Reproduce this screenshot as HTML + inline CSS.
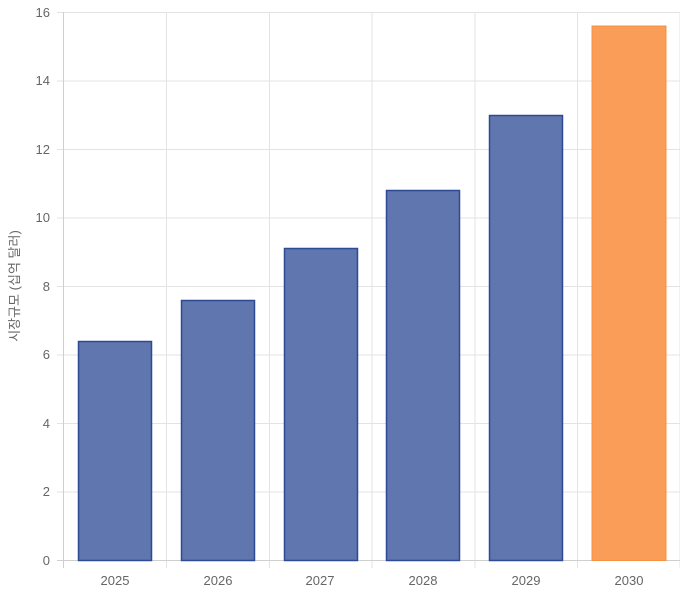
<!DOCTYPE html>
<html><head><meta charset="utf-8"><style>body{margin:0;background:#fff}</style></head><body>
<svg width="680" height="593" xmlns="http://www.w3.org/2000/svg" font-family="Liberation Sans, Noto Sans CJK KR, sans-serif">
<g stroke="#e3e3e3" stroke-width="1">
<line x1="57" y1="12.5" x2="680" y2="12.5"/><line x1="57" y1="81" x2="680" y2="81"/><line x1="57" y1="149.5" x2="680" y2="149.5"/><line x1="57" y1="218" x2="680" y2="218"/><line x1="57" y1="286.5" x2="680" y2="286.5"/><line x1="57" y1="355" x2="680" y2="355"/><line x1="57" y1="423.5" x2="680" y2="423.5"/><line x1="57" y1="492" x2="680" y2="492"/>
<line x1="166.5" y1="12" x2="166.5" y2="568"/><line x1="269.5" y1="12" x2="269.5" y2="568"/><line x1="372" y1="12" x2="372" y2="568"/><line x1="475" y1="12" x2="475" y2="568"/><line x1="577.5" y1="12" x2="577.5" y2="568"/><line x1="680" y1="12" x2="680" y2="568"/>
</g>
<g stroke="#cfcfcf"><line x1="63.5" y1="12" x2="63.5" y2="568"/><line x1="57" y1="560.5" x2="680" y2="560.5"/></g>
<g fill="#5f76ae" stroke="#2f4a94" stroke-width="1.5">
<rect x="78.5" y="341.5" width="73" height="219"/>
<rect x="181.5" y="300.5" width="73" height="260"/>
<rect x="284.5" y="248.5" width="73" height="312"/>
<rect x="386.5" y="190.5" width="73" height="370"/>
<rect x="489.5" y="115.5" width="73" height="445"/>
</g>
<rect x="592" y="26" width="74" height="534.5" fill="#fa9d58" stroke="#f7913f" stroke-width="1"/>
<g fill="#666" font-size="13" text-anchor="end">
<text x="50" y="17">16</text><text x="50" y="85">14</text><text x="50" y="154">12</text><text x="50" y="222">10</text><text x="50" y="291">8</text><text x="50" y="359">6</text><text x="50" y="428">4</text><text x="50" y="496">2</text><text x="50" y="565">0</text>
</g>
<g fill="#666" font-size="13" text-anchor="middle">
<text x="115" y="585">2025</text><text x="218" y="585">2026</text><text x="320" y="585">2027</text><text x="423" y="585">2028</text><text x="526" y="585">2029</text><text x="629" y="585">2030</text>
</g>
<text transform="translate(19,286) rotate(-90)" fill="#666" font-size="13" text-anchor="middle">시장규모 (십억 달러)</text>
</svg>
</body></html>
